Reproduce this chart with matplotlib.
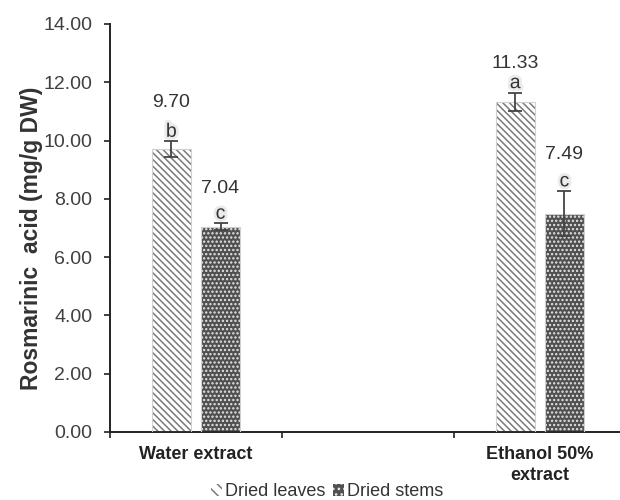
import numpy as np
import matplotlib.pyplot as plt
import matplotlib.patheffects as pe
from matplotlib.patches import Patch

plt.rcParams['font.family'] = ['Liberation Sans', 'DejaVu Sans']
plt.rcParams['hatch.linewidth'] = 1.1

# data
categories = ['Water extract', '', 'Ethanol 50%\nextract']
leaves = [9.70, np.nan, 11.33]
stems = [7.04, np.nan, 7.49]
leaves_err = [0.27, np.nan, 0.31]
stems_err = [0.12, np.nan, 0.78]
leaves_letters = ['b', '', 'a']
stems_letters = ['c', '', 'c']

# label spacing above letters (data units), as Excel placed them
leaves_gap = [1.03, 0, 0.68]
stems_gap = [0.89, 0, 0.93]

fig = plt.figure(figsize=(6.2, 5), dpi=100)
ax = fig.add_axes([0.1774, 0.136, 0.832, 0.816])

x = np.arange(len(categories))
w = 0.227
off = 0.143

b1 = ax.bar(x - off, leaves, w, color='white', edgecolor='#7a7a7a',
            hatch='\\\\\\\\\\', linewidth=0, zorder=2)
b2 = ax.bar(x + off, stems, w, color='#505050', edgecolor='#e6e6e6',
            hatch='....', linewidth=0, zorder=2)
for bars in (b1, b2):
    for r in bars:
        ax.add_patch(plt.Rectangle(r.get_xy(), r.get_width(), r.get_height(),
                                   fill=False, edgecolor='#d0d0d0', lw=0.8, zorder=3))

ax.errorbar(x - off, leaves, yerr=leaves_err, fmt='none', ecolor='#444444',
            elinewidth=1.3, capsize=5, capthick=1.3, zorder=4)
ax.errorbar(x + off, stems, yerr=stems_err, fmt='none', ecolor='#444444',
            elinewidth=1.3, capsize=5, capthick=1.3, zorder=4)

glow = [pe.withStroke(linewidth=4, foreground='#ebebeb')]
for xs, vals, errs, lets, gaps in ((x - off, leaves, leaves_err, leaves_letters, leaves_gap),
                                   (x + off, stems, stems_err, stems_letters, stems_gap)):
    for xi, v, e, l, g in zip(xs, vals, errs, lets, gaps):
        if np.isnan(v):
            continue
        base = v + e + 0.16
        ax.text(xi, base, l, ha='center', va='baseline', fontsize=14,
                color='#333333', path_effects=glow, zorder=5)
        ax.text(xi, base + g, f'{v:.2f}', ha='center', va='baseline',
                fontsize=14, color='#333333', zorder=5)

ax.set_ylim(0, 14)
ax.set_yticks(np.arange(0, 14.1, 2))
ax.set_yticklabels([f'{t:.2f}' for t in np.arange(0, 14.1, 2)],
                   fontsize=14, color='#404040')
ax.set_xlim(-0.5, 2.5)
ax.set_xticks(x)
ax.set_xticklabels(categories, fontsize=13, fontweight='bold', color='#222222',
                   linespacing=1.3)
ax.set_xticks([-0.5, 0.5, 1.5, 2.5], minor=True)
ax.tick_params(axis='x', which='major', length=0, pad=10)
ax.tick_params(axis='x', which='minor', length=4, width=1.2, color='#222222')
ax.tick_params(axis='y', length=4.3, width=1.2, color='#222222', pad=8.5)
for s in ('top', 'right'):
    ax.spines[s].set_visible(False)
for s in ('left', 'bottom'):
    ax.spines[s].set_linewidth(1.4)
    ax.spines[s].set_color('#222222')

ax.set_ylabel('Rosmarinic  acid (mg/g DW)', fontsize=16.5, fontweight='bold',
              color='#333333')
ax.yaxis.set_label_coords(-0.13, 0.475)

handles = [Patch(facecolor='white', edgecolor='#7a7a7a', hatch='\\\\\\', lw=0),
           Patch(facecolor='#505050', edgecolor='#e6e6e6', hatch='...', lw=0)]
fig.legend(handles, ['Dried leaves', 'Dried stems'], loc='center',
           bbox_to_anchor=(0.528, 0.016), ncol=2, frameon=False, fontsize=13,
           handlelength=0.6, handleheight=0.6, handletextpad=0.2,
           columnspacing=0.4, labelcolor='#333333')

fig.savefig('out.png', dpi=100)
